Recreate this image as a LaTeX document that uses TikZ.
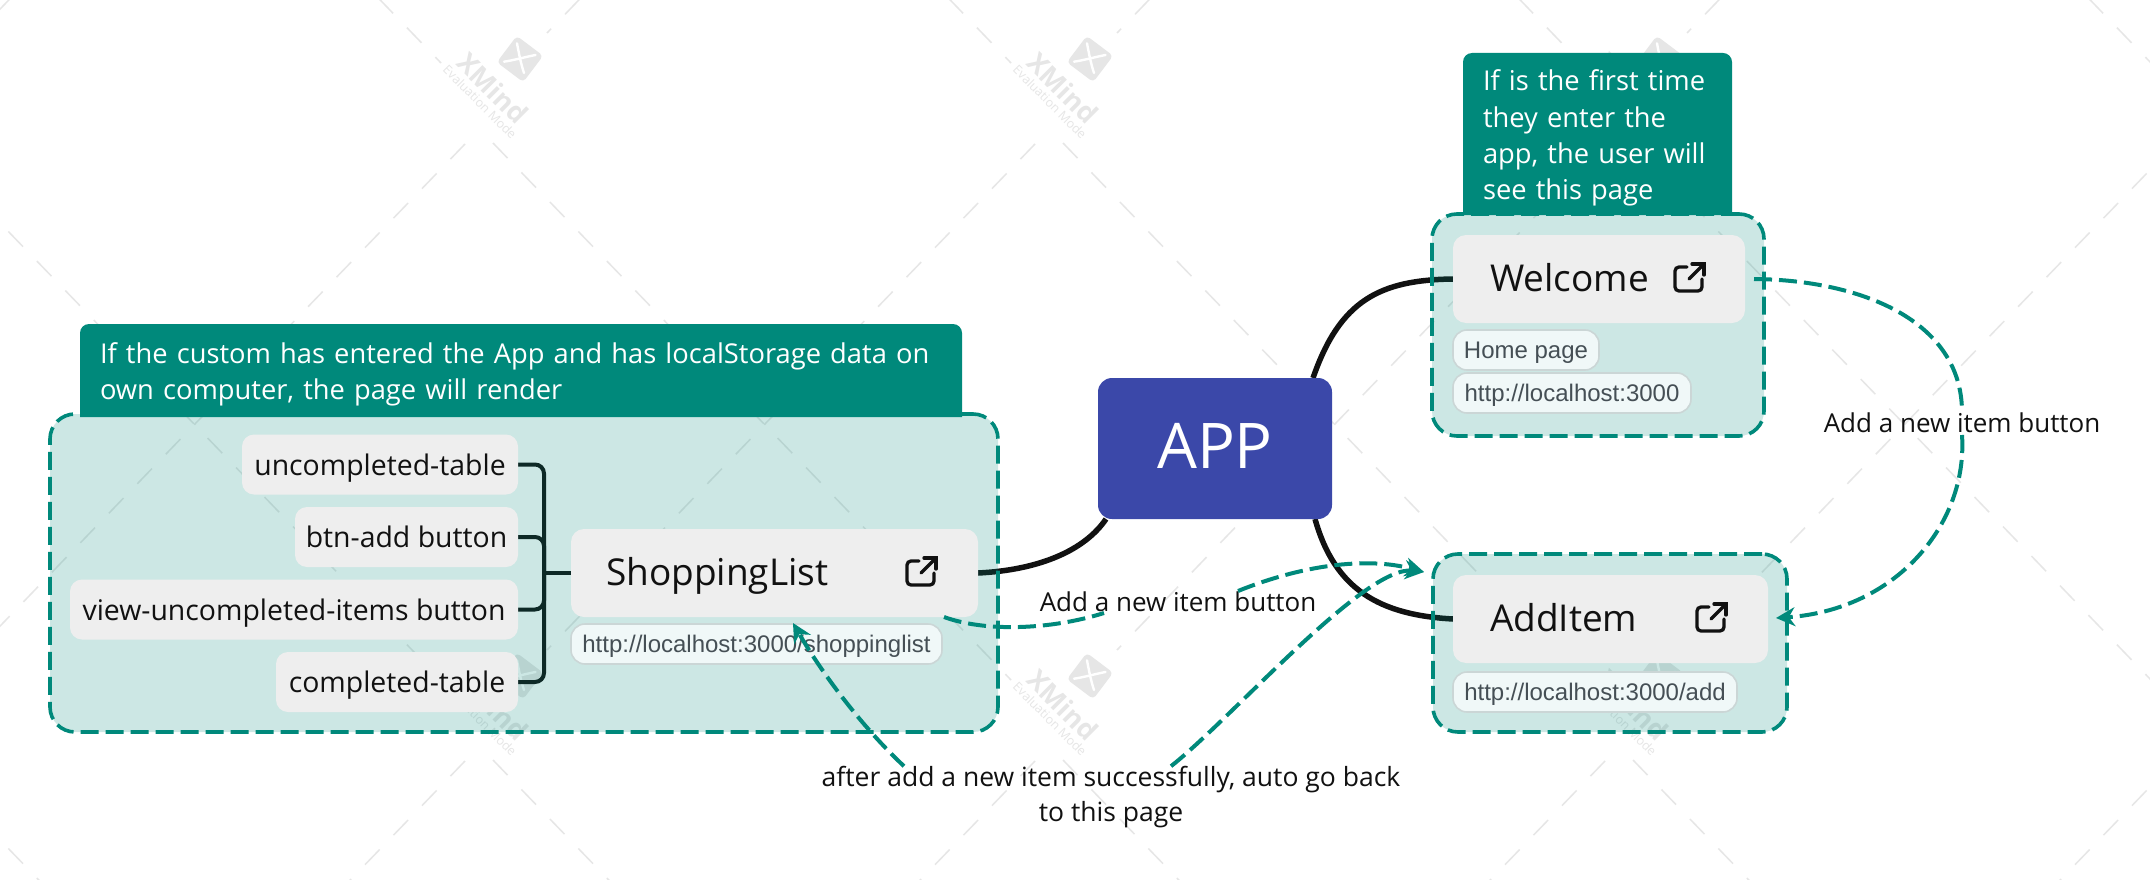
\documentclass[tikz,border=0pt]{standalone}
\usepackage{fontspec}
\setmainfont{Open Sans}
\newfontfamily\tagfont{Liberation Sans}
\usetikzlibrary{arrows.meta,positioning}

\definecolor{noteteal}{HTML}{00897B}
\definecolor{pagegrey}{HTML}{EEEEEE}
\definecolor{tagfill}{HTML}{F0F8F8}
\definecolor{tagedge}{HTML}{CBD6D6}
\definecolor{tagink}{HTML}{454F55}
\definecolor{appblue}{HTML}{3B48A9}
\definecolor{markgrey}{HTML}{E6E6E6}
\definecolor{inkblack}{HTML}{111111}

\pgfdeclarelayer{marks}
\pgfdeclarelayer{lines}
\pgfsetlayers{marks,lines,main}

\tikzset{
  every node/.style={inner sep=0pt, outer sep=0pt},
  groupframe/.style={draw=noteteal, line width=3.6pt, dash pattern=on 18pt off 7pt, fill=noteteal, fill opacity=.2, draw opacity=1, rounded corners=25pt, anchor=north west},
  notehead/.style={text=white, anchor=north west, align=left, font=\fontsize{27.3}{36.3}\selectfont, execute at begin node={\rule{0pt}{29pt}}},
  pagebox/.style={fill=pagegrey, rounded corners=13pt, anchor=north west, minimum height=88pt, align=left, text=inkblack, text height=26pt, text depth=2pt, font=\fontsize{37}{44}\selectfont},
  subbox/.style={fill=pagegrey, rounded corners=12pt, minimum height=60pt, text=inkblack, text height=22pt, text depth=1pt, font=\fontsize{28.4}{32}\selectfont},
  tagbox/.style={draw=tagedge, fill=tagfill, line width=1.6pt, rounded corners=14pt, minimum height=40pt, text=tagink, text height=20pt, text depth=3pt, font=\tagfont\fontsize{24}{28}\selectfont},
  linklabel/.style={text=inkblack, align=center, font=\fontsize{26}{35}\selectfont},
  mainline/.style={draw=inkblack, line width=5.5pt},
  subline/.style={draw=inkblack, line width=4pt, rounded corners=9pt},
  linkdash/.style={draw=noteteal, line width=4pt, dash pattern=on 18pt off 7pt},
  linkarrow/.style={linkdash, -{Stealth[length=19pt, width=19pt]}},
  pics/openlink/.style={code={
    \draw[inkblack, line width=3.3pt, line cap=round, rounded corners=4pt] (12,5) -- (0,5) -- (0,29) -- (27,29) -- (27,17);
    \draw[inkblack, line width=3.3pt, line cap=round] (14,17) -- (28,3);
    \draw[inkblack, line width=3.3pt, line cap=round] (17,2) -- (29,2) -- (29,13);
  }},
  pics/xmark/.style={code={
    \fill[markgrey, rotate=-37, rounded corners=4pt] (-16.5,16.5) rectangle (16.5,-16.5);
    \draw[white, line width=2.4pt, line cap=round] (-3,-15.7) .. controls (-1,-5) and (1,5) .. (4,14);
    \draw[white, line width=2.4pt, line cap=round] (-16,2.7) .. controls (-5,1) and (5,-2) .. (15.5,-4);
    \node[rotate=-45, text=markgrey] (xname) at (-27,29) {\fontsize{27}{30}\selectfont\bfseries XMind};
    \node[rotate=-45, text=markgrey] (xmode) at (-40,43) {\fontsize{12.5}{15}\selectfont Evaluation Mode};
  }},
  pics/xlattice/.style={code={
    \draw[markgrey, line width=1.5pt, dash pattern=on 21pt off 20pt] (-27,84) -- (491,621);
    \draw[markgrey, line width=1.5pt, dash pattern=on 21pt off 20pt] (-55,85) -- (-543,591);
  }},
}

\newcommand{\notefill}[1]{
  \begin{pgfonlayer}{lines}
    \fill[noteteal] (#1.south west) [rounded corners=9pt] -- (#1.north west) -- (#1.north east) [sharp corners] -- (#1.south east) -- cycle;
  \end{pgfonlayer}
}

\begin{document}
\begin{tikzpicture}[x=1pt,y=-1pt]
  \useasboundingbox (0,0) rectangle (2150,880);

  \begin{pgfonlayer}{marks}
    \fill[white] (0,0) rectangle (2150,880);
    \begin{scope}
      \clip (0,0) rectangle (2150,880);
      \foreach \tx in {-50,520,1090,1660,2230}
        \foreach \ty in {-558,59,676}
          \pic at (\tx,\ty) {xlattice};
    \end{scope}
    \foreach \tx in {520,1090,1660}
      \foreach \ty in {59,676}
        \pic at (\tx,\ty) {xmark};
  \end{pgfonlayer}

  \node[notehead, minimum width=882pt, minimum height=93pt, inner xsep=20pt, text width=842pt] (shoppingnote) at (80,324) {If the custom has entered the App and has localStorage data on\\own computer, the page will render};
  \node[notehead, minimum width=269pt, minimum height=162pt, inner xsep=20pt, text width=229pt] (welcomenote) at (1463,53) {If is the first time\\they enter the\\app, the user will\\see this page};
  \notefill{shoppingnote}
  \notefill{welcomenote}

  \node[groupframe, minimum width=948pt, minimum height=318pt] (shoppinggroup) at (50,414) {};
  \node[groupframe, minimum width=332pt, minimum height=222pt] (welcomegroup) at (1432,214) {};
  \node[groupframe, minimum width=354pt, minimum height=178pt] (additemgroup) at (1433,554) {};

  \node[fill=appblue, rounded corners=14pt, minimum width=234pt, minimum height=141pt, text=white, text height=41pt, text depth=2pt, font=\fontsize{63}{66}\selectfont] (app) at (1215,448.5) {APP};

  \node[pagebox, minimum width=407pt, inner xsep=35pt, text width=337pt] (shopping) at (571,529) {ShoppingList};
  \node[pagebox, minimum width=292pt, inner xsep=37pt, text width=218pt] (welcome) at (1453,235) {Welcome};
  \node[pagebox, minimum width=315pt, inner xsep=37pt, text width=241pt] (additem) at (1453,575) {AddItem};

  \node[tagbox, minimum width=371pt, below=7pt of shopping.south west, anchor=north west] (shoppingurl) {http://localhost:3000/shoppinglist};
  \node[tagbox, minimum width=146pt, below=7pt of welcome.south west, anchor=north west] (welcomehome) {Home page};
  \node[tagbox, minimum width=238pt, below=3pt of welcomehome.south west, anchor=north west] (welcomeurl) {http://localhost:3000};
  \node[tagbox, minimum width=284pt, below=9pt of additem.south west, anchor=north west] (additemurl) {http://localhost:3000/add};

  \node[subbox, minimum width=276pt, anchor=east] (uncompleted) at (518,464.5) {uncompleted-table};
  \node[subbox, minimum width=223pt, below=12.5pt of uncompleted.south east, anchor=north east] (btnadd) {btn-add button};
  \node[subbox, minimum width=448pt, below=12.5pt of btnadd.south east, anchor=north east] (viewitems) {view-uncompleted-items button};
  \node[subbox, minimum width=242pt, below=12.5pt of viewitems.south east, anchor=north east] (completed) {completed-table};

  \pic at ([shift={(-71pt,17pt)}]shopping.east) {openlink};
  \pic at ([shift={(-70pt,17pt)}]welcome.east) {openlink};
  \pic at ([shift={(-71pt,17pt)}]additem.east) {openlink};

  \coordinate (spine) at (544,573);

  \begin{pgfonlayer}{lines}
    \draw[subline] (uncompleted.east) -| (spine);
    \draw[subline] (btnadd.east) -| (spine);
    \draw[subline] (viewitems.east) -| (spine);
    \draw[subline] (completed.east) -| (spine);
    \draw[subline] (spine) -- (shopping.west);
    \draw[mainline] (shopping.east) .. controls (1040,570) and (1085,550) .. ([xshift=8pt]app.south west);
    \draw[mainline] (welcome.west) .. controls (1380,280) and (1340,300) .. ([xshift=-19pt]app.north east);
    \draw[mainline] (additem.west) .. controls (1380,615) and (1335,590) .. ([xshift=-17pt]app.south east);
  \end{pgfonlayer}

  \node[linklabel] (addlabel) at (1178,602) {Add a new item button};
  \node[linklabel] (welcomelabel) at (1962,423) {Add a new item button};
  \node[linklabel, font=\fontsize{26.5}{35}\selectfont] (backlabel) at (1111,797) {after add a new item successfully, auto go back\\to this page};

  \coordinate (additemin) at (1424,572);
  \coordinate (additemright) at (1776,618);
  \coordinate (shoppingin) at (793,623);

  \draw[linkdash] ([xshift=-34pt]shopping.south east) .. controls (985,632) and (1050,630) .. ([shift={(-74pt,-1pt)}]addlabel.south);
  \draw[linkarrow] ([shift={(60pt,1pt)}]addlabel.north) .. controls (1300,566) and (1365,556) .. (additemin);
  \draw[linkdash] ([xshift=9pt]welcome.east) .. controls (1860,280) and (1961,320) .. ([yshift=2pt]welcomelabel.north);
  \draw[linkarrow] ([yshift=-2pt]welcomelabel.south) .. controls (1968,525) and (1895,610) .. (additemright);
  \draw[linkarrow] ([xshift=-207pt]backlabel.north) .. controls (860,725) and (820,670) .. (shoppingin);
  \draw[linkarrow] ([xshift=60pt]backlabel.north) .. controls (1230,720) and (1365,565) .. (additemin);
\end{tikzpicture}
\end{document}
